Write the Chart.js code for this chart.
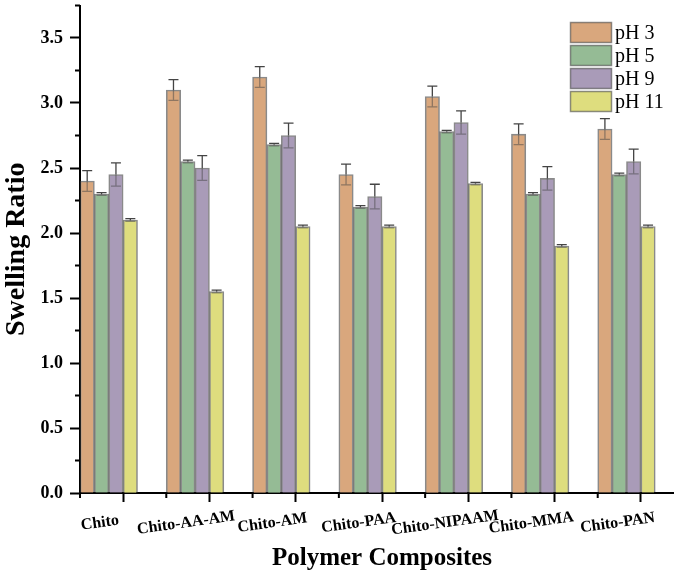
<!DOCTYPE html>
<html lang="en">
<head>
<meta charset="UTF-8">
<script src="https://cdn.jsdelivr.net/npm/chart.js@4"></script>
<style>
    html, body { margin: 0; padding: 0; overflow: hidden; background: #fff; }
</style>
</head>
<body>
<canvas id="swellChart" width="700" height="572"></canvas>
<script>
    // categories and series
    var composites = ['Chito', 'Chito-AA-AM', 'Chito-AM', 'Chito-PAA', 'Chito-NIPAAM', 'Chito-MMA', 'Chito-PAN'];
    var phLabels = ['pH 3', 'pH 5', 'pH 9', 'pH 11'];

    var ph3  = [2.40, 3.10, 3.20, 2.45, 3.05, 2.76, 2.80];
    var ph5  = [2.30, 2.55, 2.68, 2.20, 2.78, 2.30, 2.45];
    var ph9  = [2.45, 2.50, 2.75, 2.28, 2.85, 2.42, 2.55];
    var ph11 = [2.10, 1.55, 2.05, 2.05, 2.38, 1.90, 2.05];

    var err3  = [0.08, 0.08, 0.08, 0.08, 0.08, 0.08, 0.08];
    var err5  = [0.01, 0.01, 0.01, 0.01, 0.01, 0.01, 0.01];
    var err9  = [0.09, 0.095, 0.095, 0.095, 0.09, 0.09, 0.095];
    var err11 = [0.01, 0.01, 0.01, 0.01, 0.01, 0.01, 0.01];

    // empty slots so the 4 bars sit on the left of each category (as in the figure)
    var spacer = [null, null, null, null, null, null, null];

    var barColors = ['#D9A77D', '#95BB95', '#A99BB8', '#DEDD7E'];
    var serif = "'Liberation Serif', 'Times New Roman', serif";

    var series = [ph3, ph5, ph9, ph11];
    var errors = [err3, err5, err9, err11];

    var datasets = series.map(function (vals, i) {
        return {
            label: phLabels[i],
            data: vals,
            backgroundColor: barColors[i],
            borderColor: 'rgba(60, 60, 60, 0.6)',
            borderWidth: 1.6
        };
    });
    datasets.push({ label: '', data: spacer, backgroundColor: 'transparent', borderWidth: 0 });
    datasets.push({ label: '', data: spacer, backgroundColor: 'transparent', borderWidth: 0 });

    // error bars drawn on the value scale
    var errorBars = {
        id: 'errorBars',
        afterDatasetsDraw: function (chart) {
            var ctx = chart.ctx;
            var y = chart.scales.y;
            ctx.save();
            ctx.lineWidth = 1.3;
            errors.forEach(function (errs, d) {
                var meta = chart.getDatasetMeta(d);
                meta.data.forEach(function (bar, i) {
                    var v = series[d][i];
                    var top = y.getPixelForValue(v + errs[i]);
                    var mid = y.getPixelForValue(v);
                    var bot = y.getPixelForValue(v - errs[i]);
                    ctx.strokeStyle = 'rgba(70, 70, 70, 0.5)';
                    ctx.beginPath();
                    ctx.moveTo(bar.x, mid); ctx.lineTo(bar.x, bot);
                    ctx.moveTo(bar.x - 5, bot); ctx.lineTo(bar.x + 5, bot);
                    ctx.stroke();
                    ctx.strokeStyle = '#444';
                    ctx.beginPath();
                    ctx.moveTo(bar.x, mid); ctx.lineTo(bar.x, top);
                    ctx.moveTo(bar.x - 5, top); ctx.lineTo(bar.x + 5, top);
                    ctx.stroke();
                });
            });
            ctx.restore();
        }
    };

    // minor ticks, slanted category labels and the legend box
    var decorations = {
        id: 'decorations',
        afterDraw: function (chart) {
            var ctx = chart.ctx;
            var x = chart.scales.x;
            var y = chart.scales.y;
            var area = chart.chartArea;
            ctx.save();
            ctx.strokeStyle = '#000';
            ctx.lineWidth = 2;
            ctx.beginPath();
            for (var v = 0.25; v <= 3.75; v += 0.5) {
                var py = y.getPixelForValue(v);
                ctx.moveTo(area.left - 5, py); ctx.lineTo(area.left, py);
            }
            for (var i = 0; i <= composites.length; i++) {
                var px = x.getPixelForValue(i - 0.5);
                ctx.moveTo(px, area.bottom); ctx.lineTo(px, area.bottom + 5);
            }
            ctx.stroke();

            ctx.fillStyle = '#000';
            ctx.font = 'bold 16px ' + serif;
            ctx.textAlign = 'center';
            ctx.textBaseline = 'middle';
            composites.forEach(function (name, i) {
                ctx.save();
                ctx.translate(x.getPixelForValue(i - 0.27), area.bottom + 30);
                ctx.rotate(-8 * Math.PI / 180);
                ctx.fillText(name, 0, 0);
                ctx.restore();
            });

            ctx.font = '20px ' + serif;
            ctx.textAlign = 'left';
            ctx.textBaseline = 'alphabetic';
            ctx.lineWidth = 1.5;
            phLabels.forEach(function (lab, i) {
                var top = 22.5 + i * 23;
                ctx.fillStyle = barColors[i];
                ctx.fillRect(570.5, top, 41, 20);
                ctx.strokeStyle = 'rgba(70, 70, 70, 0.6)';
                ctx.strokeRect(570.5, top, 41, 20);
                ctx.fillStyle = '#000';
                ctx.fillText(lab, 615, top + 16);
            });
            ctx.restore();
        }
    };

    const ctx1 = document.getElementById('swellChart').getContext('2d');
    new Chart(ctx1, {
        type: 'bar',
        data: {
            labels: composites,
            datasets: datasets
        },
        options: {
            responsive: false,
            animation: false,
            layout: { padding: { left: 0, top: 5.5, right: 16, bottom: 0 } },
            datasets: {
                bar: { categoryPercentage: 1, barPercentage: 1 }
            },
            scales: {
                x: {
                    border: { color: '#000', width: 2 },
                    grid: { display: true, drawOnChartArea: false, offset: false, tickLength: 9, tickWidth: 2, tickColor: '#000' },
                    ticks: { display: false },
                    title: {
                        display: true,
                        text: 'Polymer Composites',
                        color: '#000',
                        font: { family: serif, size: 25, weight: 'bold' },
                        padding: { top: 0, bottom: -2 }
                    },
                    afterFit: function (scale) { scale.height = 79; }
                },
                y: {
                    min: 0,
                    max: 3.75,
                    border: { color: '#000', width: 2 },
                    grid: { display: true, drawOnChartArea: false, tickLength: 10, tickWidth: 2, tickColor: '#000' },
                    ticks: {
                        stepSize: 0.5,
                        includeBounds: false,
                        padding: 7,
                        color: '#000',
                        font: { family: serif, size: 18, weight: 'bold' },
                        callback: function (v) { return v.toFixed(1); }
                    },
                    title: {
                        display: true,
                        text: 'Swelling Ratio',
                        color: '#000',
                        font: { family: serif, size: 28, weight: 'bold' },
                        padding: { top: 0, bottom: 0 }
                    },
                    afterFit: function (scale) {
                        scale.width = 80;
                        scale.paddingTop = 0;
                        scale.paddingBottom = 0;
                    }
                }
            },
            plugins: {
                legend: { display: false },
                tooltip: { enabled: false }
            }
        },
        plugins: [errorBars, decorations]
    });
</script>
</body>
</html>
